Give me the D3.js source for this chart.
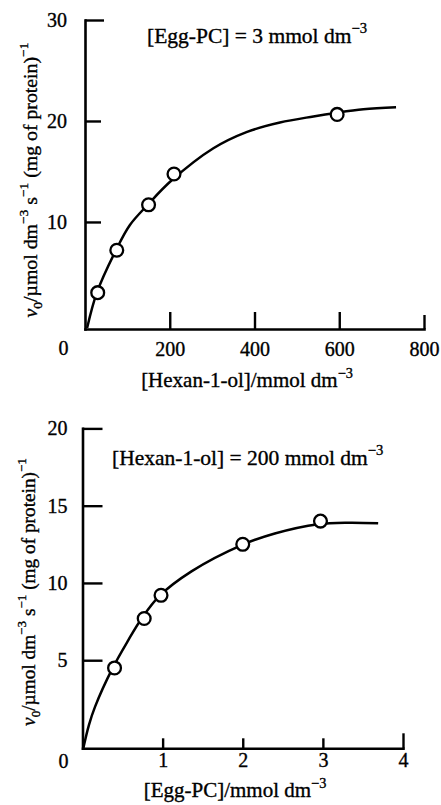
<!DOCTYPE html>
<html>
<head>
<meta charset="utf-8">
<script src="https://cdn.jsdelivr.net/npm/d3@7/dist/d3.min.js"></script>
<style>
  html, body { margin: 0; padding: 0; background: #fff; }
  svg { display: block; }
  text { font-family: "Liberation Serif", "Times New Roman", serif; fill: #000; stroke: #000; stroke-width: 0.35px; }
</style>
</head>
<body>
<svg id="chart" width="441" height="805"></svg>
<script>
// ---------- DATA ----------
// Panel A: [Egg-PC] = 3 mmol dm-3, varying hexan-1-ol
const hexanol = [30, 75, 150, 210, 595];
const rateA = [3.0, 7.2, 11.7, 14.75, 20.65];
const fitAx = [5, 28, 73, 106, 148, 204, 303, 381, 460, 539, 592, 657, 734];
const fitAy = [-0.5, 3.0, 7.2, 9.7, 11.7, 14.1, 17.3, 18.9, 19.85, 20.45, 20.8, 21.15, 21.35];
const ticksAx = [200, 400, 600, 800];
const ticksAy = [10, 20, 30];

// Panel B: [Hexan-1-ol] = 200 mmol dm-3, varying Egg-PC
const eggPC = [0.4, 0.77, 0.98, 2.0, 2.97];
const rateB = [4.5, 7.7, 9.2, 12.5, 14.0];
const fitBx = [0.01, 0.08, 0.156, 0.377, 0.572, 0.738, 0.958, 1.36, 1.987, 2.40, 2.94, 3.32, 3.69];
const fitBy = [-0.7, 0.8, 1.98, 4.5, 6.3, 7.7, 9.15, 10.75, 12.45, 13.2, 13.8, 13.9, 13.86];
const ticksBx = [1, 2, 3, 4];
const ticksBy = [5, 10, 15, 20];

// ---------- DRAW ----------
const svg = d3.select("#chart");

function supText(sel, parts, fs) {
  let shift = 0;
  parts.forEach(([t, kind]) => {
    const ts = sel.append("tspan").text(t);
    let target = 0;
    if (kind === "sup") { target = -0.45; ts.attr("font-size", (fs * 0.68).toFixed(2)); }
    else if (kind === "sub") { target = 0.25; ts.attr("font-size", (fs * 0.68).toFixed(2)); }
    else if (kind === "it") { ts.attr("font-style", "italic"); }
    const d = target - shift;
    if (d !== 0) ts.attr("dy", (d * fs).toFixed(2));
    shift = target;
  });
}

function panel(cfg) {
  const g = svg.append("g");
  const x = d3.scaleLinear().domain(cfg.xDomain).range(cfg.xRange);
  const y = d3.scaleLinear().domain(cfg.yDomain).range(cfg.yRange);
  const y0 = cfg.yRange[0];

  const xAxis = d3.axisBottom(x).tickValues(cfg.xTicks).tickSizeInner(-cfg.xTickLen)
    .tickSizeOuter(0).tickPadding(cfg.xPad).tickFormat(d3.format("d"));
  const gx = g.append("g").attr("transform", `translate(0,${y0})`).call(xAxis);

  const yAxis = d3.axisLeft(y).tickValues(cfg.yTicks).tickSizeInner(-cfg.yTickLen)
    .tickSizeOuter(0).tickPadding(cfg.yPad).tickFormat(d3.format("d"));
  const gy = g.append("g").attr("transform", `translate(${cfg.xRange[0]},0)`).call(yAxis);

  [gx, gy].forEach(a => {
    a.select(".domain").attr("stroke", "#000").attr("stroke-width", 2.6).attr("stroke-linecap", "square");
    a.selectAll(".tick line").attr("stroke", "#000").attr("stroke-width", 2.4);
    a.selectAll(".tick text").attr("font-size", cfg.tickFS).attr("font-family", "Liberation Serif")
      .attr("fill", "#000");
  });
  // end ticks drawn with their own lengths, as in the original
  const lastX = cfg.xTicks[cfg.xTicks.length - 1];
  gx.selectAll(".tick line").filter(d => d === lastX).attr("y2", -cfg.xEndTickLen);
  const lastY = cfg.yTicks[cfg.yTicks.length - 1];
  gy.selectAll(".tick line").filter(d => d === lastY).attr("x2", cfg.yEndTickLen);

  // origin label
  g.append("text").attr("x", cfg.zeroPos[0]).attr("y", cfg.zeroPos[1])
    .attr("text-anchor", "end").attr("font-size", cfg.tickFS).text("0");

  // fitted curve
  const line = d3.line().x(d => x(d[0])).y(d => y(d[1])).curve(d3.curveCatmullRom.alpha(0.5));
  g.append("path").datum(d3.zip(cfg.fitX, cfg.fitY)).attr("d", line)
    .attr("fill", "none").attr("stroke", "#000").attr("stroke-width", 2.5);

  // points
  g.selectAll("circle.pt").data(d3.zip(cfg.px, cfg.py)).join("circle").attr("class", "pt")
    .attr("cx", d => x(d[0])).attr("cy", d => y(d[1])).attr("r", 6.4)
    .attr("fill", "#fff").attr("stroke", "#000").attr("stroke-width", 2.3);

  // annotation
  const ann = g.append("text").attr("x", cfg.annPos[0]).attr("y", cfg.annPos[1]).attr("font-size", cfg.annFS);
  supText(ann, cfg.ann, cfg.annFS);

  // x title
  const xt = g.append("text").attr("x", cfg.xTitlePos[0]).attr("y", cfg.xTitlePos[1])
    .attr("text-anchor", "middle").attr("font-size", cfg.titleFS);
  supText(xt, cfg.xTitle, cfg.titleFS);

  // y title
  const yt = g.append("text").attr("transform", `translate(${cfg.yTitlePos[0]},${cfg.yTitlePos[1]}) rotate(-90)`)
    .attr("text-anchor", "middle").attr("font-size", cfg.yTitleFS);
  supText(yt, [["v", "it"], ["0", "sub"], ["/\u00b5mol dm", null], ["\u22123", "sup"], [" s", null], ["\u22121", "sup"],
    [" (mg of protein)", null], ["\u22121", "sup"]], cfg.yTitleFS);
}

panel({
  xDomain: [0, 800], xRange: [85, 424],
  yDomain: [-0.6, 30], yRange: [329, 20],
  xTicks: ticksAx, yTicks: ticksAy, xTickLen: 17, yTickLen: 16, xEndTickLen: 14, yEndTickLen: 19,
  xPad: 13, yPad: 18,
  tickFS: 20, annFS: 21.5, titleFS: 21, yTitleFS: 19.8,
  zeroPos: [68.5, 355],
  fitX: fitAx, fitY: fitAy, px: hexanol, py: rateA,
  annPos: [147, 43],
  ann: [["[Egg-PC] = 3 mmol dm", null], ["\u22123", "sup"]],
  xTitlePos: [247, 387],
  xTitle: [["[Hexan-1-ol]/mmol dm", null], ["\u22123", "sup"]],
  yTitlePos: [37, 180]
});

panel({
  xDomain: [0, 4], xRange: [82.5, 403],
  yDomain: [-0.7, 20], yRange: [748.3, 428.4],
  xTicks: ticksBx, yTicks: ticksBy, xTickLen: 10, yTickLen: 20, xEndTickLen: 15, yEndTickLen: 20,
  xPad: 5, yPad: 15,
  tickFS: 20, annFS: 21.5, titleFS: 21, yTitleFS: 19.3,
  zeroPos: [68.5, 768],
  fitX: fitBx, fitY: fitBy, px: eggPC, py: rateB,
  annPos: [112, 465],
  ann: [["[Hexan-1-ol] = 200 mmol dm", null], ["\u22123", "sup"]],
  xTitlePos: [235, 797],
  xTitle: [["[Egg-PC]/mmol dm", null], ["\u22123", "sup"]],
  yTitlePos: [35, 592]
});
</script>
</body>
</html>
